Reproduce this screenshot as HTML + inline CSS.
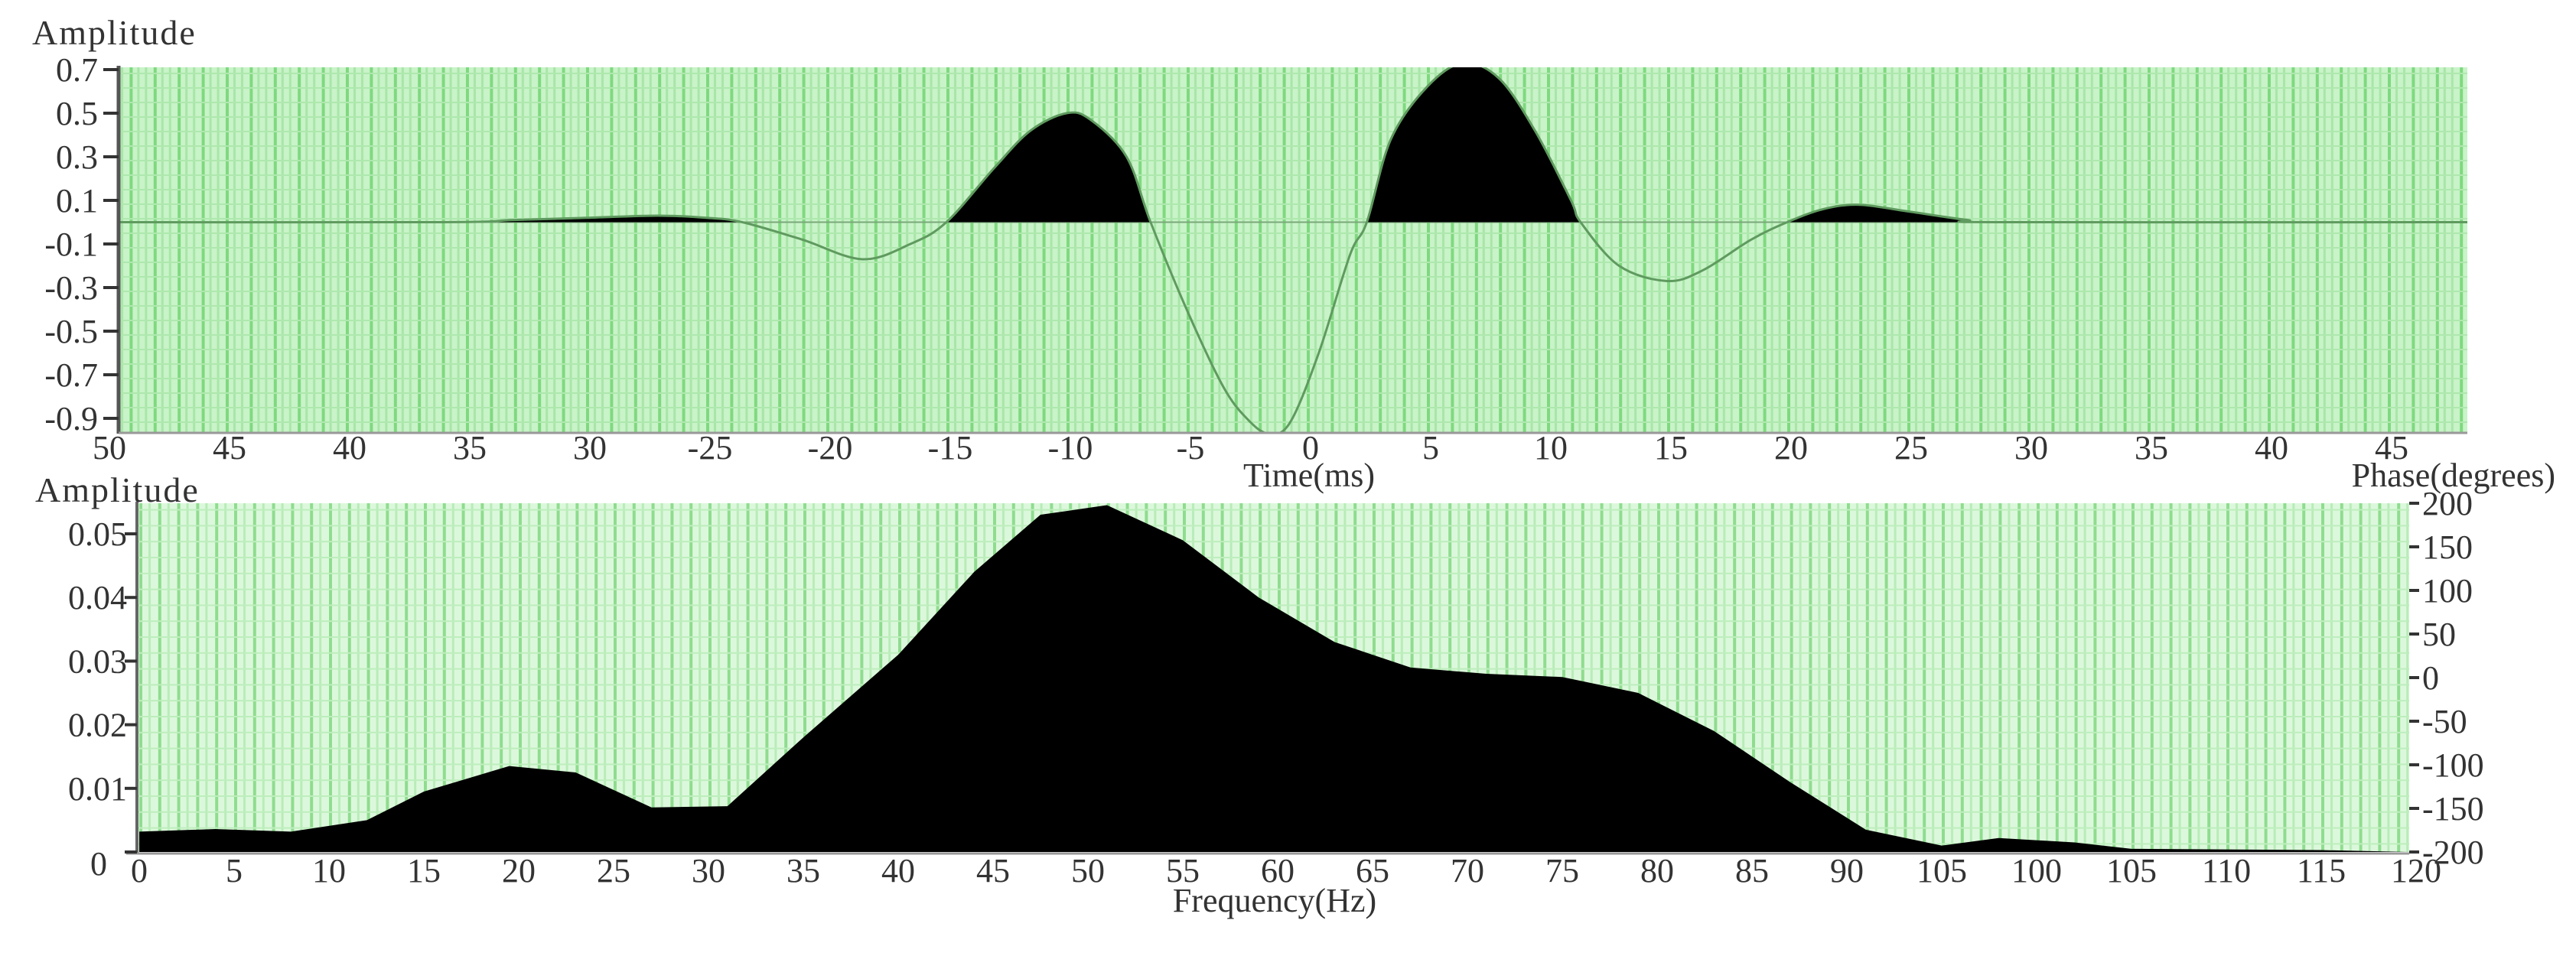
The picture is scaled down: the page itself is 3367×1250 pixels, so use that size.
<!DOCTYPE html>
<html><head><meta charset="utf-8">
<style>
html,body{margin:0;padding:0;background:#fff;}
svg{display:block;}
text{font-family:"Liberation Serif",serif;fill:#333;}
</style></head>
<body>
<svg id="chart" width="3367" height="1250" viewBox="0 0 3367 1250" xmlns="http://www.w3.org/2000/svg">
<defs>
<pattern id="gridTop" patternUnits="userSpaceOnUse" x="1708" y="0" width="31.4" height="19">
<rect width="31.4" height="19" fill="#c9f3c9"/>
<rect x="0" width="4" height="19" fill="#7fd97f"/>
<rect x="10" width="3" height="19" fill="#a8e6a8"/>
<rect x="20" width="3" height="19" fill="#a8e6a8"/>
<rect y="0" width="31.4" height="2" fill="#aee8ae"/>
</pattern>
<pattern id="gridBot" patternUnits="userSpaceOnUse" x="182" y="0" width="24.8" height="20.8">
<rect width="24.8" height="20.8" fill="#dcf8dc"/>
<rect x="0" width="4" height="20.8" fill="#8fdc8f"/>
<rect x="12" width="3" height="20.8" fill="#b8ecb8"/>
<rect y="0" width="24.8" height="2" fill="#bdeebd"/>
</pattern>
<clipPath id="clipTop"><rect x="155" y="88" width="3070" height="477"/></clipPath>
<clipPath id="clipBot"><rect x="179" y="658" width="2970" height="456"/></clipPath>
</defs>
<g id="top"></g>
<g id="bot"></g>
</svg>
<script>
// top plot data: time (ms) and amplitude
const topTimes = [-50,-36,-33,-30,-27,-25,-23.5,-21,-18.5,-16.5,-15,-13,-11.5,-10,-9,-7.5,-6.5,-5,-3.5,-2.5,-1.6,-0.7,0.5,1.8,2.5,3.5,5,6.5,8,9.5,11,11.4,13,15,16.5,18.5,20,21.5,23,25,27.5,29,48.7];
const topAmps  = [0,0,0.01,0.02,0.03,0.02,0,-0.08,-0.17,-0.1,0,0.25,0.42,0.5,0.47,0.3,0,-0.4,-0.75,-0.9,-0.97,-0.92,-0.6,-0.15,0,0.38,0.62,0.73,0.66,0.42,0.1,0,-0.2,-0.27,-0.22,-0.08,0,0.06,0.08,0.05,0.01,0,0];
const topYTicks = [0.7,0.5,0.3,0.1,-0.1,-0.3,-0.5,-0.7,-0.9];
const topXTicks = [-50,-45,-40,-35,-30,-25,-20,-15,-10,-5,0,5,10,15,20,25,30,35,40,45];
const topXLabels = ["50","45","40","35","30","-25","-20","-15","-10","-5","0","5","10","15","20","25","30","35","40","45"];
// bottom plot data: frequency (Hz) and amplitude
const freqs = [0,4,8,12,15,19.5,23,27,31,35,40,44,47.5,51,55,59,63,67,71,75,79,83,87,91,95,98,102,105,115,119.6];
const specAmps = [0.0032,0.0036,0.0032,0.005,0.0095,0.0135,0.0125,0.007,0.0072,0.018,0.031,0.044,0.053,0.0545,0.049,0.04,0.033,0.029,0.028,0.0275,0.025,0.019,0.011,0.0035,0.001,0.0022,0.0015,0.0005,0.0003,0];
const botYTicks = [0.05,0.04,0.03,0.02,0.01,0];
const botYLabels = ["0.05","0.04","0.03","0.02","0.01","0"];
const botXTicks = [0,5,10,15,20,25,30,35,40,45,50,55,60,65,70,75,80,85,90,95,100,105,110,115,120];
const botXLabels = ["0","5","10","15","20","25","30","35","40","45","50","55","60","65","70","75","80","85","90","105","100","105","110","115","120"];
const phaseTicks = [200,150,100,50,0,-50,-100,-150,-200];

const NS="http://www.w3.org/2000/svg";
function mk(tag,attrs,parent,txt){const e=document.createElementNS(NS,tag);for(const k in attrs)e.setAttribute(k,attrs[k]);if(txt!==undefined)e.textContent=txt;parent.appendChild(e);return e;}
function smooth(P){let d='M'+P[0][0]+','+P[0][1];for(let i=0;i<P.length-1;i++){const p0=P[Math.max(0,i-1)],p1=P[i],p2=P[i+1],p3=P[Math.min(P.length-1,i+2)];const c1x=p1[0]+(p2[0]-p0[0])/6,c1y=p1[1]+(p2[1]-p0[1])/6,c2x=p2[0]-(p3[0]-p1[0])/6,c2y=p2[1]-(p3[1]-p1[1])/6;d+=' C'+c1x+','+c1y+' '+c2x+','+c2y+' '+p2[0]+','+p2[1];}return d;}

// top axes
const tx=t=>1708+t*31.4;
const ty=a=>290.5-a*285;
const T=document.getElementById('top');
let r=mk('rect',{x:155,y:88,width:3070,height:477,fill:'url(#gridTop)'},T);


mk('line',{x1:155,y1:ty(0),x2:3225,y2:ty(0),stroke:'#7aa87a','stroke-width':2},T);
let P=topTimes.map((t,i)=>[tx(t),ty(topAmps[i])]);
let d=smooth(P);
const cpTop=mk('clipPath',{id:'posTop'},T);
mk('rect',{x:155,y:80,width:3070,height:ty(0)-80},cpTop);
let g=mk('g',{'clip-path':'url(#clipTop)'},T);
let area=mk('path',{d:d+' L'+P[P.length-1][0]+','+ty(0)+' L'+P[0][0]+','+ty(0)+' Z',fill:'#000','clip-path':'url(#posTop)'},g);


let ln=mk('path',{d:d,fill:'none',stroke:'#5f9a5f','stroke-width':3},g);


mk('line',{x1:155,y1:86,x2:155,y2:567,stroke:'#555','stroke-width':5},T);
mk('line',{x1:155,y1:566,x2:3225,y2:566,stroke:'#999','stroke-width':3},T);
topYTicks.forEach(v=>{
  mk('line',{x1:135,y1:ty(v),x2:155,y2:ty(v),stroke:'#333','stroke-width':4},T);
  let e=mk('text',{x:128,y:ty(v)+15,'text-anchor':'end','font-size':44},T,v.toFixed(1));
  
  
});
topXTicks.forEach((v,i)=>{
  let e=mk('text',{x:tx(v)+5,y:600,'text-anchor':'middle','font-size':44},T,topXLabels[i]);
  
  
});
let t1=mk('text',{x:42,y:58,'font-size':46,'letter-spacing':2},T,'Amplitude');


let t2=mk('text',{x:1711,y:636,'text-anchor':'middle','font-size':44},T,'Time(ms)');



// bottom axes
const bx=f=>182+f*24.8;
const by=a=>1114-a*8320;
const py=p=>1114-(p+200)*456/400;
const B=document.getElementById('bot');
r=mk('rect',{x:179,y:658,width:2970,height:456,fill:'url(#gridBot)'},B);


let bp=freqs.map((f,i)=>bx(f)+','+by(specAmps[i]));
let g2=mk('g',{'clip-path':'url(#clipBot)'},B);
let sa=mk('polygon',{points:bx(0)+','+by(0)+' '+bp.join(' ')+' '+bx(freqs[freqs.length-1])+','+by(0),fill:'#000'},g2);


mk('line',{x1:179,y1:656,x2:179,y2:1116,stroke:'#666','stroke-width':4},B);
mk('line',{x1:165,y1:1116,x2:3149,y2:1116,stroke:'#999','stroke-width':3},B);
botYTicks.forEach((v,i)=>{
  mk('line',{x1:163,y1:by(v),x2:179,y2:by(v),stroke:'#333','stroke-width':4},B);
  let e=mk('text',{x:i==5?140:166,y:by(v)+(i==5?30:15),'text-anchor':'end','font-size':44},B,botYLabels[i]);
  
  
});
botXTicks.forEach((v,i)=>{
  let e=mk('text',{x:bx(v),y:1153,'text-anchor':'middle','font-size':44},B,botXLabels[i]);
  
  
});
phaseTicks.forEach(v=>{
  mk('line',{x1:3149,y1:py(v),x2:3162,y2:py(v),stroke:'#333','stroke-width':4},B);
  let e=mk('text',{x:3166,y:py(v)+15,'text-anchor':'start','font-size':44},B,String(v));
  
  
});
let t3=mk('text',{x:46,y:656,'font-size':46,'letter-spacing':2},B,'Amplitude');


let t4=mk('text',{x:3340,y:636,'text-anchor':'end','font-size':44},B,'Phase(degrees)');


let t5=mk('text',{x:1666,y:1192,'text-anchor':'middle','font-size':44},B,'Frequency(Hz)');


</script>
</body></html>
